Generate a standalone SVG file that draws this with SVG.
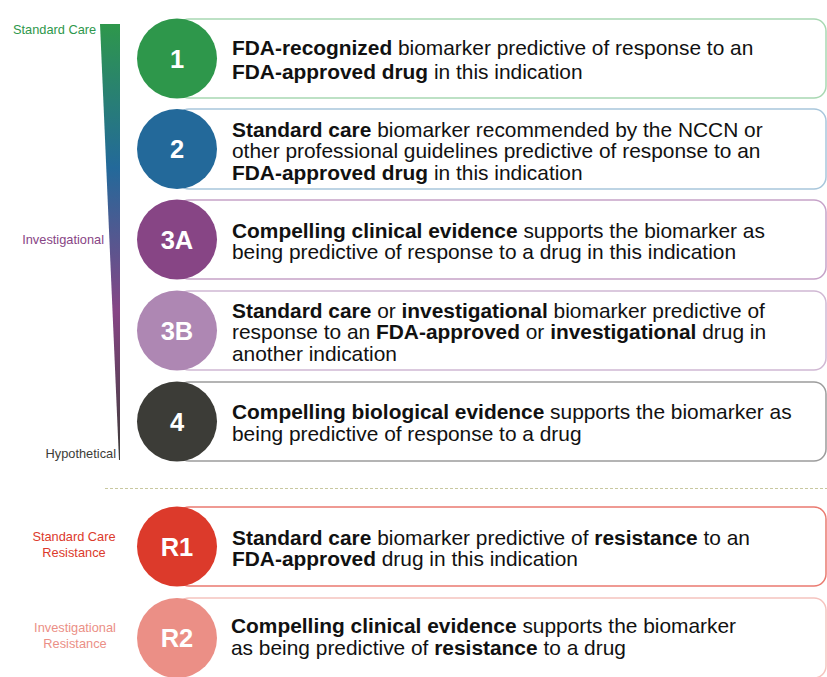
<svg xmlns="http://www.w3.org/2000/svg" width="827" height="677" viewBox="0 0 827 677">
<defs>
<linearGradient id="wedge" x1="0" y1="24" x2="0" y2="460" gradientUnits="userSpaceOnUse">
<stop offset="0" stop-color="#2e974b"/>
<stop offset="0.33" stop-color="#23699a"/>
<stop offset="0.66" stop-color="#874585"/>
<stop offset="1" stop-color="#3c3c37"/>
</linearGradient>
<style>
.box{fill:#fff;stroke-width:1.5}
.num{font-family:"Liberation Sans",Arial,sans-serif;font-weight:bold;font-size:25.5px;fill:#fff;text-anchor:middle}
.t{font-family:"Liberation Sans",Arial,sans-serif;font-size:20.9px;fill:#111}
.b{font-weight:bold}
.lab{font-family:"Liberation Sans",Arial,sans-serif;font-size:12.8px}
</style>
</defs>
<rect width="827" height="677" fill="#fff"/>
<g id="scale">
<polygon points="100,24 120,24 120,460 119,460" fill="url(#wedge)"/>
<text class="lab" x="13" y="34" fill="#2e974b">Standard Care</text>
<text class="lab" x="104" y="244" fill="#874585" text-anchor="end">Investigational</text>
<text class="lab" x="116" y="458" fill="#3c3c37" text-anchor="end">Hypothetical</text>
</g>
<g id="divider"><line x1="105" y1="488.5" x2="827" y2="488.5" stroke="#c8c8a0" stroke-width="1" stroke-dasharray="3,2"/></g>
<g id="level1">
<rect class="box" x="177" y="19" width="649" height="79" rx="12" stroke="#a8d8b2"/>
<circle cx="177" cy="58.5" r="40" fill="#2e974b"/>
<text class="num" x="177" y="67.5">1</text>
<text class="t" x="232" y="55"><tspan class="b">FDA-recognized</tspan> biomarker predictive of response to an</text>
<text class="t" x="232" y="79"><tspan class="b">FDA-approved drug</tspan> in this indication</text>
</g>
<g id="level2">
<rect class="box" x="177" y="109" width="649" height="80" rx="12" stroke="#a8c6db"/>
<circle cx="177" cy="149" r="40" fill="#23699a"/>
<text class="num" x="177" y="158">2</text>
<text class="t" x="232" y="137"><tspan class="b">Standard care</tspan> biomarker recommended by the NCCN or</text>
<text class="t" x="232" y="158">other professional guidelines predictive of response to an</text>
<text class="t" x="232" y="180"><tspan class="b">FDA-approved drug</tspan> in this indication</text>
</g>
<g id="level3A">
<rect class="box" x="177" y="200" width="649" height="79" rx="12" stroke="#c6a2c8"/>
<circle cx="177" cy="239.5" r="40" fill="#874585"/>
<text class="num" x="177" y="248.5">3A</text>
<text class="t" x="232" y="238"><tspan class="b">Compelling clinical evidence</tspan> supports the biomarker as</text>
<text class="t" x="232" y="259">being predictive of response to a drug in this indication</text>
</g>
<g id="level3B">
<rect class="box" x="177" y="291" width="649" height="79" rx="12" stroke="#d0b8d3"/>
<circle cx="177" cy="330.5" r="40" fill="#ae87b3"/>
<text class="num" x="177" y="339.5">3B</text>
<text class="t" x="232" y="318"><tspan class="b">Standard care</tspan> or <tspan class="b">investigational</tspan> biomarker predictive of</text>
<text class="t" x="232" y="339">response to an <tspan class="b">FDA-approved</tspan> or <tspan class="b">investigational</tspan> drug in</text>
<text class="t" x="232" y="361">another indication</text>
</g>
<g id="level4">
<rect class="box" x="177" y="382" width="649" height="79" rx="12" stroke="#9c9c9c"/>
<circle cx="177" cy="421.5" r="40" fill="#3c3c37"/>
<text class="num" x="177" y="430.5">4</text>
<text class="t" x="232" y="419"><tspan class="b">Compelling biological evidence</tspan> supports the biomarker as</text>
<text class="t" x="232" y="441">being predictive of response to a drug</text>
</g>
<g id="resist-labels">
<text class="lab" x="74" y="541" fill="#dc3a2b" text-anchor="middle">Standard Care</text>
<text class="lab" x="74" y="557" fill="#dc3a2b" text-anchor="middle">Resistance</text>
<text class="lab" x="75" y="632" fill="#eb8f86" text-anchor="middle">Investigational</text>
<text class="lab" x="75" y="648" fill="#eb8f86" text-anchor="middle">Resistance</text>
</g>
<g id="levelR1">
<rect class="box" x="177" y="507" width="649" height="79" rx="12" stroke="#ea7a70"/>
<circle cx="177" cy="546.5" r="40" fill="#dc3a2b"/>
<text class="num" x="177" y="555.5">R1</text>
<text class="t" x="232" y="545"><tspan class="b">Standard care</tspan> biomarker predictive of <tspan class="b">resistance</tspan> to an</text>
<text class="t" x="232" y="566"><tspan class="b">FDA-approved</tspan> drug in this indication</text>
</g>
<g id="levelR2">
<rect class="box" x="177" y="598" width="649" height="80" rx="12" stroke="#f5c3be"/>
<circle cx="177" cy="638" r="40" fill="#eb8f86"/>
<text class="num" x="177" y="647">R2</text>
<text class="t" x="231" y="633"><tspan class="b">Compelling clinical evidence</tspan> supports the biomarker</text>
<text class="t" x="231" y="655">as being predictive of <tspan class="b">resistance</tspan> to a drug</text>
</g>
</svg>
